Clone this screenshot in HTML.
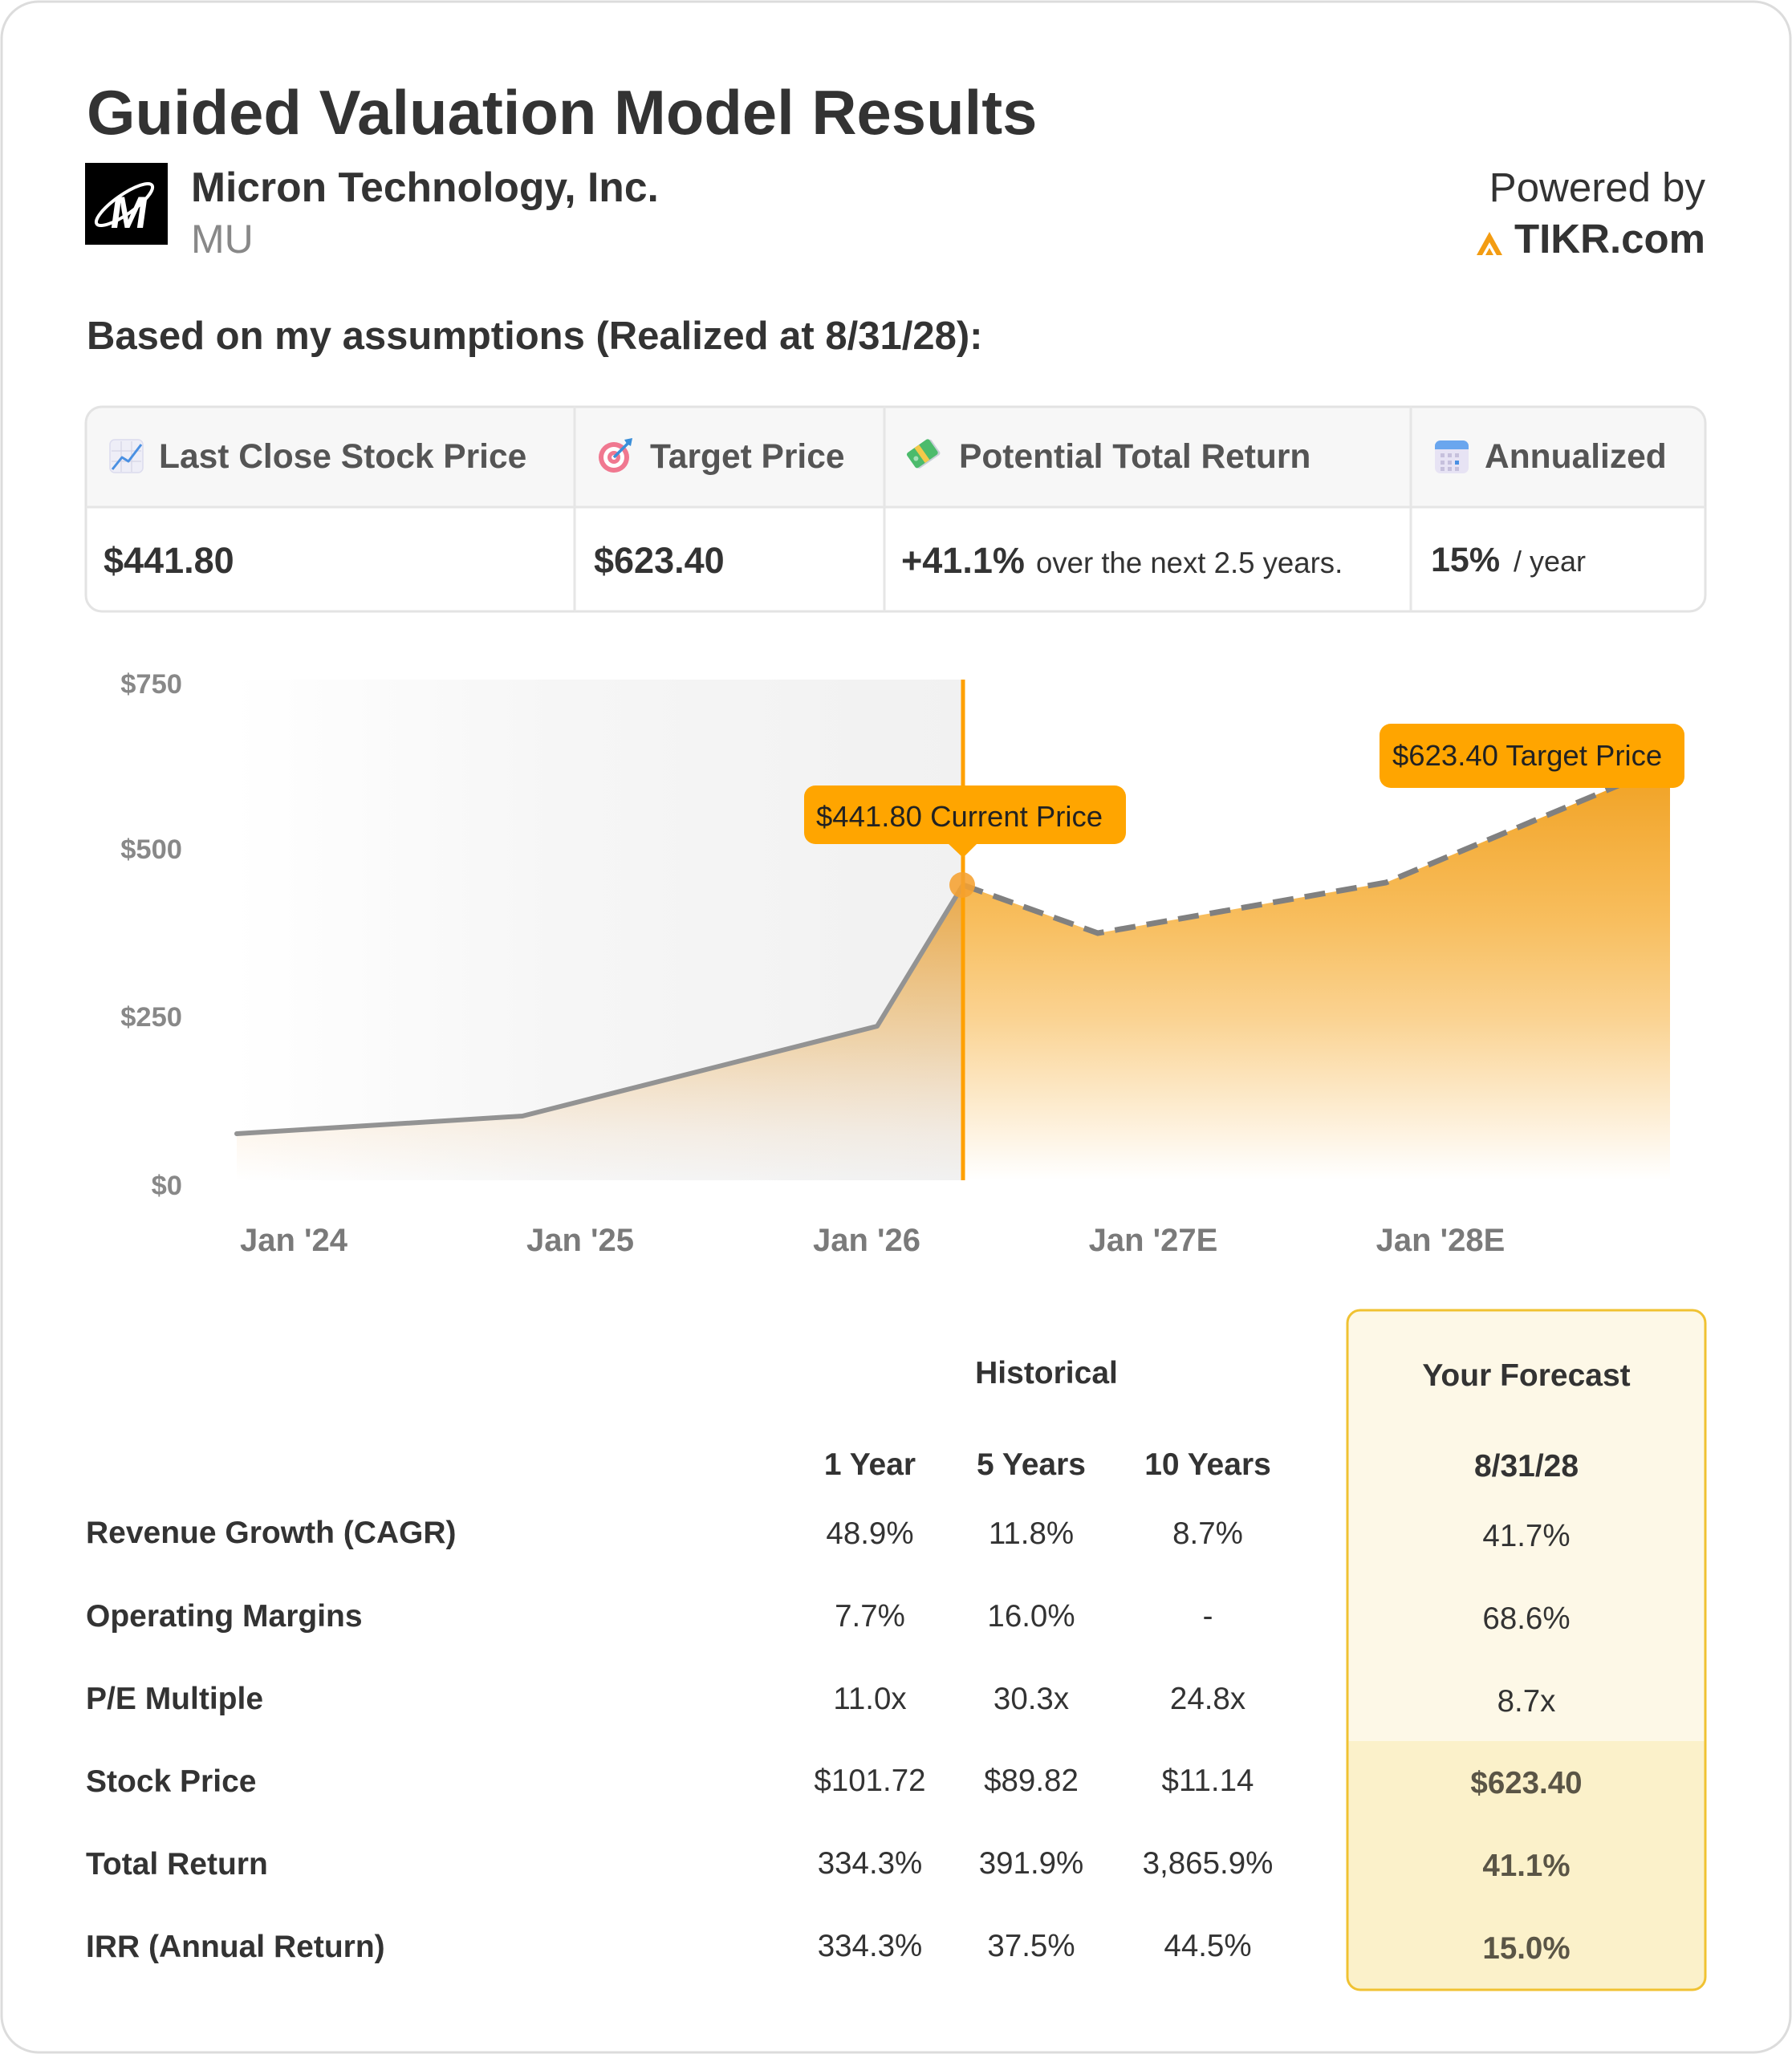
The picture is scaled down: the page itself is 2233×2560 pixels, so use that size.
<!DOCTYPE html>
<html>
<head>
<meta charset="utf-8">
<style>
html,body{margin:0;padding:0;background:#fff;}
svg{display:block;}
text{font-family:"Liberation Sans",Arial,sans-serif;}
</style>
</head>
<body>
<svg width="2233" height="2560" viewBox="0 0 2233 2560" xmlns="http://www.w3.org/2000/svg">
<defs>
  <linearGradient id="bgGray" x1="290" y1="0" x2="1200" y2="0" gradientUnits="userSpaceOnUse">
    <stop offset="0" stop-color="#ffffff"/>
    <stop offset="0.45" stop-color="#f6f6f6"/>
    <stop offset="1" stop-color="#f1f1f1"/>
  </linearGradient>
  <linearGradient id="histFill" x1="0" y1="1100" x2="0" y2="1471" gradientUnits="userSpaceOnUse">
    <stop offset="0" stop-color="#e8a23a" stop-opacity="0.92"/>
    <stop offset="0.54" stop-color="#e8a23a" stop-opacity="0.38"/>
    <stop offset="0.85" stop-color="#f0b060" stop-opacity="0.1"/>
    <stop offset="1" stop-color="#f0b060" stop-opacity="0"/>
  </linearGradient>
  <linearGradient id="fcFill" x1="0" y1="950" x2="0" y2="1471" gradientUnits="userSpaceOnUse">
    <stop offset="0" stop-color="#f0a020" stop-opacity="1"/>
    <stop offset="0.38" stop-color="#f5a623" stop-opacity="0.73"/>
    <stop offset="0.61" stop-color="#f5a623" stop-opacity="0.5"/>
    <stop offset="0.80" stop-color="#f5a623" stop-opacity="0.25"/>
    <stop offset="0.94" stop-color="#f5a623" stop-opacity="0.07"/>
    <stop offset="1" stop-color="#f5a623" stop-opacity="0"/>
  </linearGradient>
  <clipPath id="fcClip"><rect x="1679" y="1633" width="446" height="847" rx="16"/></clipPath>
  <clipPath id="tblClip"><rect x="107" y="507" width="2018" height="255" rx="20"/></clipPath>
</defs>

<!-- Card -->
<rect x="2" y="2" width="2229" height="2556" rx="46" fill="#fff" stroke="#dcdcdc" stroke-width="3"/>

<!-- Header -->
<text x="108" y="167" font-size="77.8" font-weight="bold" fill="#333">Guided Valuation Model Results</text>

<rect x="106" y="203" width="103" height="102" fill="#000"/>
<ellipse cx="155" cy="255" rx="42" ry="12" fill="none" stroke="#fff" stroke-width="4" transform="rotate(-35 155 255)"/>
<text x="137" y="284" font-size="56" font-weight="bold" fill="#fff" transform="skewX(-8) translate(38 0)">M</text>

<text x="238" y="251" font-size="51.6" font-weight="bold" fill="#333">Micron Technology, Inc.</text>
<text x="238" y="315" font-size="50" fill="#888">MU</text>

<text x="2125" y="251" font-size="51" fill="#333" text-anchor="end">Powered by</text>
<text x="2125" y="315" font-size="51" font-weight="bold" fill="#333" text-anchor="end">TIKR.com</text>
<polygon points="1840,318 1856,289 1872,318 1865,318 1856,302 1847,318" fill="#f39c12"/>
<polygon points="1851,318 1856,309 1861,318" fill="#f39c12"/>

<text x="108" y="435" font-size="49" font-weight="bold" fill="#333">Based on my assumptions (Realized at 8/31/28):</text>

<!-- Summary table -->
<g clip-path="url(#tblClip)">
  <rect x="107" y="507" width="2018" height="255" fill="#fff"/>
  <rect x="107" y="507" width="2018" height="125" fill="#f7f7f7"/>
</g>
<rect x="107" y="507" width="2018" height="255" rx="20" fill="none" stroke="#e3e3e3" stroke-width="3"/>
<line x1="107" y1="632" x2="2125" y2="632" stroke="#e6e6e6" stroke-width="3"/>
<line x1="716" y1="507" x2="716" y2="762" stroke="#e6e6e6" stroke-width="3"/>
<line x1="1102" y1="507" x2="1102" y2="762" stroke="#e6e6e6" stroke-width="3"/>
<line x1="1758" y1="507" x2="1758" y2="762" stroke="#e6e6e6" stroke-width="3"/>

<!-- icons -->
<g>
  <rect x="137" y="548" width="41" height="41" rx="6" fill="#eeeef7" stroke="#dcdcee" stroke-width="1.5"/>
  <line x1="151" y1="550" x2="151" y2="588" stroke="#d8d8e8" stroke-width="1.5"/>
  <line x1="164" y1="550" x2="164" y2="588" stroke="#d8d8e8" stroke-width="1.5"/>
  <line x1="139" y1="562" x2="176" y2="562" stroke="#d8d8e8" stroke-width="1.5"/>
  <line x1="139" y1="575" x2="176" y2="575" stroke="#d8d8e8" stroke-width="1.5"/>
  <polyline points="140,585 152,570 160,575 176,554" fill="none" stroke="#4a90e2" stroke-width="3" stroke-linejoin="round"/>
</g>
<g>
  <circle cx="765" cy="570" r="19" fill="#f07890"/>
  <circle cx="765" cy="570" r="13" fill="#fff"/>
  <circle cx="765" cy="570" r="8" fill="#f07890"/>
  <circle cx="765" cy="570" r="3" fill="#fff"/>
  <line x1="765" y1="570" x2="782" y2="553" stroke="#3b8fd9" stroke-width="3.5"/>
  <polygon points="778,548 788,546 786,556 781,553" fill="#3b8fd9"/>
</g>
<g transform="rotate(-35 1151 566)">
  <rect x="1135" y="555" width="34" height="23" rx="3" fill="#c8d0d8"/>
  <rect x="1133" y="553" width="34" height="23" rx="3" fill="#4cbb6c"/>
  <rect x="1146" y="553" width="7" height="23" fill="#f3c94a"/>
  <circle cx="1140" cy="565" r="3" fill="#a5e0b8"/>
</g>
<g>
  <rect x="1788" y="549" width="42" height="41" rx="7" fill="#e7e3f4"/>
  <path d="M1788,560 v-4 a7,7 0 0 1 7,-7 h28 a7,7 0 0 1 7,7 v4 z" fill="#6aa6ee"/>
  <g fill="#c6c0dc">
    <rect x="1795" y="565" width="5" height="5"/><rect x="1804" y="565" width="5" height="5"/><rect x="1813" y="565" width="5" height="5"/>
    <rect x="1795" y="574" width="5" height="5"/><rect x="1804" y="574" width="5" height="5"/>
    <rect x="1795" y="582" width="5" height="5"/><rect x="1804" y="582" width="5" height="5"/><rect x="1813" y="582" width="5" height="5"/>
  </g>
  <rect x="1813" y="574" width="5" height="5" fill="#4a90e2"/>
</g>

<g font-size="42.5" font-weight="bold" fill="#555">
  <text x="198" y="583">Last Close Stock Price</text>
  <text x="810" y="583">Target Price</text>
  <text x="1195" y="583">Potential Total Return</text>
  <text x="1850" y="583">Annualized</text>
</g>

<text x="129" y="714" font-size="45" font-weight="bold" fill="#333">$441.80</text>
<text x="740" y="714" font-size="45" font-weight="bold" fill="#333">$623.40</text>
<text x="1123" y="714" font-size="45" font-weight="bold" fill="#333">+41.1%</text>
<text x="1291" y="714" font-size="36.6" fill="#333">over the next 2.5 years.</text>
<text x="1783" y="712" font-size="43" font-weight="bold" fill="#333">15%</text>
<text x="1886" y="712" font-size="36" fill="#333">/ year</text>

<!-- Chart -->
<rect x="290" y="847" width="910" height="624" fill="url(#bgGray)"/>

<g font-size="34.5" font-weight="bold" fill="#888" text-anchor="end">
  <text x="227" y="864">$750</text>
  <text x="227" y="1070">$500</text>
  <text x="227" y="1279">$250</text>
  <text x="227" y="1489">$0</text>
</g>

<polygon points="295,1413 651,1391 1093,1279 1200,1103 1200,1471 295,1471" fill="url(#histFill)"/>
<polygon points="1200,1103 1368,1163 1727,1100 2081,952 2081,1471 1200,1471" fill="url(#fcFill)"/>

<polyline points="295,1413 651,1391 1093,1279 1200,1103" fill="none" stroke="#939393" stroke-width="6" stroke-linejoin="round" stroke-linecap="round"/>
<polyline points="1200,1103 1368,1163 1727,1100 2081,952" fill="none" stroke="#808080" stroke-width="7" stroke-dasharray="26 14"/>

<line x1="1200" y1="847" x2="1200" y2="1471" stroke="#ffa000" stroke-width="5"/>
<circle cx="1199" cy="1103" r="16" fill="#f5a030" fill-opacity="0.88"/>

<rect x="1002" y="979" width="401" height="73" rx="14" fill="#ffa500"/>
<polygon points="1180,1050 1219,1050 1200,1069" fill="#ffa500"/>
<text x="1017" y="1030" font-size="36.5" fill="#222">$441.80 Current Price</text>

<rect x="1719" y="902" width="380" height="80" rx="14" fill="#ffa500"/>
<text x="1735" y="954" font-size="36.5" fill="#222">$623.40 Target Price</text>

<g font-size="40" font-weight="bold" fill="#7a7a7a" text-anchor="middle">
  <text x="366" y="1559">Jan '24</text>
  <text x="723" y="1559">Jan '25</text>
  <text x="1080" y="1559">Jan '26</text>
  <text x="1437" y="1559">Jan '27E</text>
  <text x="1795" y="1559">Jan '28E</text>
</g>

<!-- Bottom table -->
<g clip-path="url(#fcClip)">
  <rect x="1679" y="1633" width="446" height="537" fill="#fdf8e7"/>
  <rect x="1679" y="2170" width="446" height="310" fill="#fbf1ca"/>
</g>
<rect x="1679" y="1633" width="446" height="847" rx="16" fill="none" stroke="#f0c232" stroke-width="3"/>

<g font-size="39" font-weight="bold" fill="#333" text-anchor="middle">
  <text x="1304" y="1724">Historical</text>
  <text x="1902" y="1727">Your Forecast</text>
  <text x="1084" y="1838">1 Year</text>
  <text x="1285" y="1838">5 Years</text>
  <text x="1505" y="1838">10 Years</text>
  <text x="1902" y="1840">8/31/28</text>
</g>

<g font-size="39" font-weight="bold" fill="#333">
  <text x="107" y="1923">Revenue Growth (CAGR)</text>
  <text x="107" y="2027">Operating Margins</text>
  <text x="107" y="2130">P/E Multiple</text>
  <text x="107" y="2233">Stock Price</text>
  <text x="107" y="2336">Total Return</text>
  <text x="107" y="2439">IRR (Annual Return)</text>
</g>

<g font-size="38.5" fill="#333" text-anchor="middle">
  <text x="1084" y="1924">48.9%</text><text x="1285" y="1924">11.8%</text><text x="1505" y="1924">8.7%</text>
  <text x="1084" y="2027">7.7%</text><text x="1285" y="2027">16.0%</text><text x="1505" y="2027">-</text>
  <text x="1084" y="2130">11.0x</text><text x="1285" y="2130">30.3x</text><text x="1505" y="2130">24.8x</text>
  <text x="1084" y="2232">$101.72</text><text x="1285" y="2232">$89.82</text><text x="1505" y="2232">$11.14</text>
  <text x="1084" y="2335">334.3%</text><text x="1285" y="2335">391.9%</text><text x="1505" y="2335">3,865.9%</text>
  <text x="1084" y="2438">334.3%</text><text x="1285" y="2438">37.5%</text><text x="1505" y="2438">44.5%</text>
  <text x="1902" y="1927">41.7%</text>
  <text x="1902" y="2030">68.6%</text>
  <text x="1902" y="2133">8.7x</text>
</g>
<g font-size="38.5" font-weight="bold" fill="#5a5546" text-anchor="middle">
  <text x="1902" y="2235">$623.40</text>
  <text x="1902" y="2338">41.1%</text>
  <text x="1902" y="2441">15.0%</text>
</g>
</svg>
</body>
</html>
